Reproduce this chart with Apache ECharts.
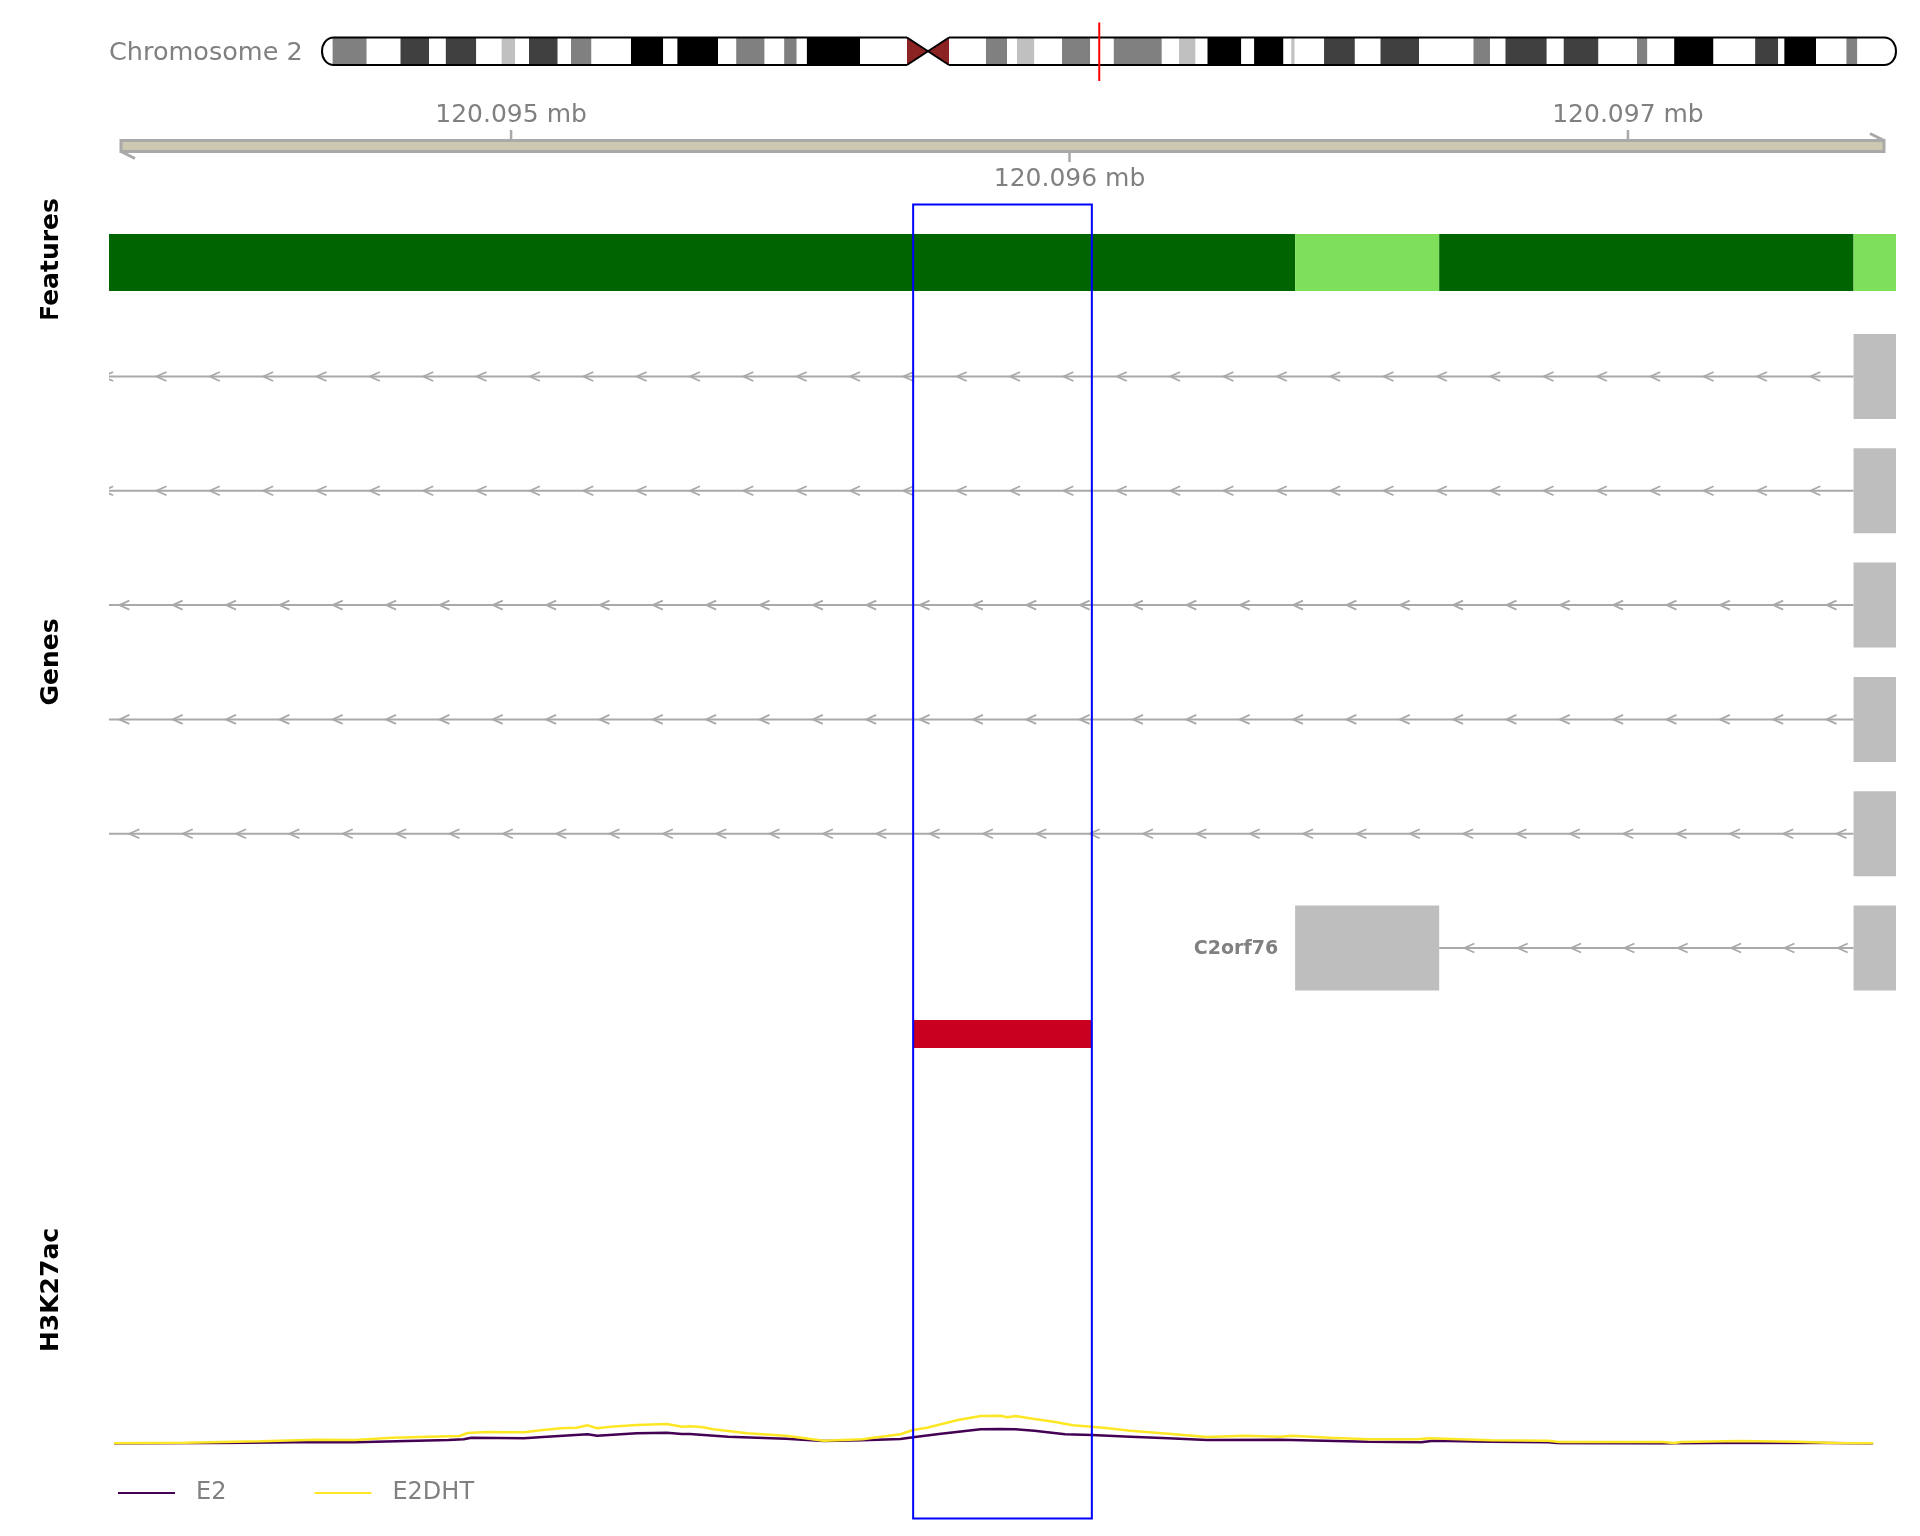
<!DOCTYPE html>
<html>
<head>
<meta charset="utf-8">
<script src="https://cdn.jsdelivr.net/npm/echarts@6/dist/echarts.min.js"></script>
<style>html,body{margin:0;padding:0;background:#fff}#c{width:1920px;height:1536px}</style>
</head>
<body>
<div id="c"></div>
<script>
// ---------------- data ----------------
const chromName = 'Chromosome 2';
const chromLengthMb = 243.2;
const bandEdgesMb = [0, 1.64, 6.91, 12.13, 16.53, 19.13, 23.84, 27.75, 29.84, 31.98, 36.42, 38.47, 41.64, 47.74, 52.72, 54.91, 61.19, 64.00, 68.39, 71.41, 73.35, 74.92, 83.13, 90.39, 93.56, 96.88, 102.59, 105.84, 107.38, 110.07, 114.34, 118.69, 122.34, 129.76, 132.42, 134.98, 136.82, 142.04, 144.02, 148.56, 149.77, 150.29, 154.83, 159.59, 163.55, 169.50, 177.92, 180.47, 182.86, 189.24, 191.86, 197.23, 203.18, 204.79, 208.93, 215.00, 221.44, 225.00, 225.95, 230.85, 235.54, 237.23, 243.20];
const bandStains = ['gneg','gpos50','gneg','gpos75','gneg','gpos75','gneg','gpos25','gneg','gpos75','gneg','gpos50','gneg','gpos100','gneg','gpos100','gneg','gpos50','gneg','gpos50','gneg','gpos100','gneg','acen','acen','gneg','gpos50','gneg','gpos25','gneg','gpos50','gneg','gpos50','gneg','gpos25','gneg','gpos100','gneg','gpos100','gneg','gpos25','gneg','gpos75','gneg','gpos75','gneg','gpos50','gneg','gpos75','gneg','gpos75','gneg','gpos50','gneg','gpos100','gneg','gpos75','gneg','gpos100','gneg','gpos50','gneg'];
const viewMarkMb = 120.096;

const viewStart = 120094280;
const viewEnd = 120097480;
const axisTicks = [120095000, 120096000, 120097000];
const axisTickLabels = ['120.095 mb', '120.096 mb', '120.097 mb'];

const featureStarts = [120094280, 120096404, 120096662, 120097404];
const featureEnds   = [120096404, 120096662, 120097404, 120097480];
const featureTypes  = ['intron', 'exon', 'intron', 'exon'];

const transcriptStarts = [120094280, 120094280, 120094280, 120094280, 120094280, 120096404];
const transcriptExons = [
  [[120097404, 120097480]],
  [[120097404, 120097480]],
  [[120097404, 120097480]],
  [[120097404, 120097480]],
  [[120097404, 120097480]],
  [[120096404, 120096662], [120097404, 120097480]]
];
const transcriptLabels = ['', '', '', '', '', 'C2orf76'];
const arrowAnchors = [120094365, 120094365, 120094394, 120094394, 120094412, 120096707];

const peakStarts = [120095720];
const peakEnds = [120096040];
const highlightStart = 120095720;
const highlightEnd = 120096040;

const e2Pos = [120094289, 120094484, 120094652, 120094720, 120094888, 120094915, 120094929, 120095023, 120095057, 120095137, 120095154, 120095225, 120095279, 120095306, 120095320, 120095389, 120095492, 120095560, 120095629, 120095697, 120095720, 120095766, 120095841, 120095876, 120095903, 120095937, 120095992, 120096040, 120096109, 120096177, 120096246, 120096377, 120096535, 120096630, 120096651, 120096754, 120096857, 120096877, 120097062, 120097165, 120097302, 120097439];
const e2Val = [0, 0.05, 0.16, 0.13, 0.37, 0.44, 0.61, 0.55, 0.68, 0.97, 0.82, 1.07, 1.14, 1.00, 1.00, 0.72, 0.50, 0.26, 0.34, 0.47, 0.65, 1.00, 1.49, 1.52, 1.49, 1.35, 0.97, 0.89, 0.72, 0.55, 0.37, 0.40, 0.19, 0.13, 0.29, 0.19, 0.13, 0.02, 0, 0.05, 0.08, 0];
const e2dhtPos = [120094289, 120094416, 120094551, 120094652, 120094720, 120094787, 120094888, 120094908, 120094922, 120094955, 120095023, 120095057, 120095090, 120095117, 120095137, 120095154, 120095178, 120095225, 120095279, 120095306, 120095320, 120095341, 120095362, 120095423, 120095492, 120095560, 120095629, 120095656, 120095697, 120095720, 120095745, 120095800, 120095841, 120095876, 120095889, 120095903, 120095937, 120095972, 120096006, 120096040, 120096061, 120096109, 120096177, 120096246, 120096314, 120096377, 120096398, 120096466, 120096535, 120096624, 120096644, 120096754, 120096857, 120096877, 120097062, 120097083, 120097096, 120097199, 120097302, 120097371, 120097439];
const e2dhtVal = [0.02, 0.08, 0.23, 0.40, 0.37, 0.61, 0.76, 0.79, 1.10, 1.21, 1.18, 1.42, 1.60, 1.66, 1.91, 1.60, 1.77, 1.95, 2.05, 1.77, 1.82, 1.74, 1.49, 1.07, 0.82, 0.30, 0.44, 0.65, 0.97, 1.42, 1.66, 2.47, 2.89, 2.92, 2.75, 2.89, 2.58, 2.29, 1.91, 1.77, 1.66, 1.35, 1.03, 0.68, 0.82, 0.72, 0.82, 0.61, 0.44, 0.44, 0.55, 0.34, 0.29, 0.16, 0.16, 0.05, 0.16, 0.26, 0.19, 0.05, 0.02];
const seriesNames = ['E2', 'E2DHT'];
const trackTitles = ['Features', 'Genes', 'H3K27ac'];

// ---------------- styles ----------------
const FONT = 'DejaVu Sans';
const GREY_TXT = '#808080';
const stainColor = {gneg: '#FFFFFF', gpos25: '#C0C0C0', gpos50: '#808080', gpos75: '#404040', gpos100: '#000000'};
const featureColor = {intron: '#006400', exon: '#7EE05A'};
const lineColors = ['#440154', '#FDE725'];
const PLOT_LEFT = 109, PLOT_WIDTH = 1787;
const ARROW_SPACING = 53.35;

const chart = echarts.init(document.getElementById('c'), null, {width: 1920, height: 1536});

function rectX(api, s, e) {
  const x1 = api.coord([s, 0])[0], x2 = api.coord([e, 0])[0];
  return [x1, x2];
}

// ideogram bands
function renderBand(params, api) {
  const i = api.value(2);
  const stain = bandStains[i];
  if (stain === 'acen') return null;
  const cs = params.coordSys;
  const [x1, x2] = rectX(api, api.value(0), api.value(1));
  return {type: 'rect', shape: {x: x1, y: cs.y, width: x2 - x1, height: cs.height}, style: {fill: stainColor[stain]}};
}
// ideogram outline, centromere and view marker
function renderIdeoOutline(params, api) {
  const cs = params.coordSys;
  const top = cs.y, bot = cs.y + cs.height, mid = (top + bot) / 2;
  const xL = api.coord([0, 0])[0], xR = api.coord([chromLengthMb, 0])[0];
  const ai = bandStains.indexOf('acen');
  const cL = api.coord([bandEdgesMb[ai], 0])[0];
  const cM = api.coord([bandEdgesMb[ai + 1], 0])[0];
  const cR = api.coord([bandEdgesMb[ai + 2], 0])[0];
  const cap = 12, k = cap * 1.333;
  const mx = api.coord([viewMarkMb, 0])[0];
  const ln = {stroke: '#000', lineWidth: 2, fill: null};
  return {type: 'group', children: [
    {type: 'polygon', shape: {points: [[cL, top], [cL, bot], [cM, mid]]}, style: {fill: '#8B2323'}},
    {type: 'polygon', shape: {points: [[cR, top], [cR, bot], [cM, mid]]}, style: {fill: '#8B2323'}},
    {type: 'polyline', shape: {points: [[cL, top], [xL + cap, top]]}, style: ln},
    {type: 'polyline', shape: {points: [[cL, bot], [xL + cap, bot]]}, style: ln},
    {type: 'bezierCurve', shape: {x1: xL + cap, y1: top, cpx1: xL + cap - k, cpy1: top, cpx2: xL + cap - k, cpy2: bot, x2: xL + cap, y2: bot}, style: ln},
    {type: 'polyline', shape: {points: [[cR, top], [xR - cap, top]]}, style: ln},
    {type: 'polyline', shape: {points: [[cR, bot], [xR - cap, bot]]}, style: ln},
    {type: 'bezierCurve', shape: {x1: xR - cap, y1: top, cpx1: xR - cap + k, cpy1: top, cpx2: xR - cap + k, cpy2: bot, x2: xR - cap, y2: bot}, style: ln},
    {type: 'polyline', shape: {points: [[cL, top], [cR, bot]]}, style: ln},
    {type: 'polyline', shape: {points: [[cL, bot], [cR, top]]}, style: ln},
    {type: 'line', shape: {x1: mx, y1: top - 15, x2: mx, y2: bot + 16}, style: {stroke: '#FF0000', lineWidth: 2}}
  ]};
}
// genome axis
function renderAxis(params, api) {
  const cs = params.coordSys;
  const bx1 = cs.x + 12, bx2 = cs.x + cs.width - 12;
  const top = cs.y, bot = cs.y + cs.height;
  const grey = '#A9A9A9';
  const children = [
    {type: 'rect', shape: {x: bx1, y: top + 1.5, width: bx2 - bx1, height: cs.height - 3}, style: {fill: '#CDC8B1', stroke: grey, lineWidth: 3}},
    {type: 'line', shape: {x1: bx2, y1: top + 1.5, x2: bx2 - 14, y2: top - 5.5}, style: {stroke: grey, lineWidth: 3}},
    {type: 'line', shape: {x1: bx1, y1: bot - 1.5, x2: bx1 + 14, y2: bot + 5.5}, style: {stroke: grey, lineWidth: 3}}
  ];
  axisTicks.forEach(function (t, i) {
    const x = api.coord([t, 0])[0];
    const up = i % 2 === 0;
    children.push({type: 'line', shape: {x1: x, y1: up ? top : bot, x2: x, y2: up ? top - 9 : bot + 9}, style: {stroke: grey, lineWidth: 2.5}});
    children.push({type: 'text', style: {text: axisTickLabels[i], x: x, y: up ? top - 24 : bot + 26.5,
      font: '25px "' + FONT + '"', fill: GREY_TXT, align: 'center', verticalAlign: 'middle', textAlign: 'center', textVerticalAlign: 'middle'}});
  });
  return {type: 'group', children: children};
}
// feature track
function renderFeature(params, api) {
  const cs = params.coordSys;
  const [x1, x2] = rectX(api, api.value(0), api.value(1));
  return {type: 'rect', shape: {x: x1, y: cs.y, width: x2 - x1, height: cs.height}, style: {fill: featureColor[featureTypes[api.value(2)]]}};
}
// gene models
function renderTranscript(params, api) {
  const r = api.value(0);
  const yc = api.coord([viewStart, r + 0.5])[1];
  const pitch = api.size([0, 1])[1];
  const h = pitch * 0.744;
  const exons = transcriptExons[r];
  const grey = '#A9A9A9';
  const children = [];
  const introns = [];
  let prev = transcriptStarts[r];
  exons.forEach(function (ex) {
    if (ex[0] > prev) introns.push([prev, ex[0]]);
    prev = Math.max(prev, ex[1]);
  });
  const anchor = api.coord([arrowAnchors[r], 0])[0];
  introns.forEach(function (seg) {
    const a = api.coord([seg[0], 0])[0], b = api.coord([seg[1], 0])[0];
    children.push({type: 'line', shape: {x1: a, y1: yc, x2: b, y2: yc}, style: {stroke: grey, lineWidth: 2}});
    const kMin = Math.ceil((a - 9 - anchor) / ARROW_SPACING);
    for (let k = kMin; ; k++) {
      const tip = anchor + k * ARROW_SPACING;
      if (tip + 10 > b - 3) break;
      children.push({type: 'polyline', shape: {points: [[tip + 10, yc - 4.5], [tip, yc], [tip + 10, yc + 4.5]]}, style: {stroke: grey, lineWidth: 1.8, fill: null}});
    }
  });
  exons.forEach(function (ex) {
    const [x1, x2] = rectX(api, ex[0], ex[1]);
    children.push({type: 'rect', shape: {x: x1, y: yc - h / 2, width: x2 - x1, height: h}, style: {fill: '#BEBEBE'}});
  });
  if (transcriptLabels[r]) {
    const lx = api.coord([exons[0][0], 0])[0] - 17;
    children.push({type: 'text', style: {text: transcriptLabels[r], x: lx, y: yc + 1, font: 'bold 19px "' + FONT + '"', fill: GREY_TXT,
      align: 'right', verticalAlign: 'middle', textAlign: 'right', textVerticalAlign: 'middle'}});
  }
  return {type: 'group', children: children};
}
function renderPeak(params, api) {
  const cs = params.coordSys;
  const [x1, x2] = rectX(api, api.value(0), api.value(1));
  return {type: 'rect', shape: {x: x1, y: cs.y, width: x2 - x1, height: cs.height}, style: {fill: '#C9001F'}};
}
function renderHighlight(params, api) {
  const cs = params.coordSys;
  const [x1, x2] = rectX(api, api.value(0), api.value(1));
  return {type: 'rect', shape: {x: x1, y: cs.y, width: x2 - x1, height: cs.height}, style: {fill: null, stroke: '#0000FF', lineWidth: 2}};
}

const grids = [
  {left: 322, width: 1574, top: 37.5, height: 27.5},          // 0 ideogram
  {left: PLOT_LEFT, width: PLOT_WIDTH, top: 139, height: 14},  // 1 axis
  {left: PLOT_LEFT, width: PLOT_WIDTH, top: 234, height: 57},  // 2 features
  {left: PLOT_LEFT, width: PLOT_WIDTH, top: 319.35, height: 685.8}, // 3 genes
  {left: PLOT_LEFT, width: PLOT_WIDTH, top: 1020, height: 28}, // 4 peaks
  {left: PLOT_LEFT, width: PLOT_WIDTH, top: 1063, height: 380.5}, // 5 data
  {left: PLOT_LEFT, width: PLOT_WIDTH, top: 204.5, height: 1314} // 6 highlight
];
const xAxes = grids.map(function (g, i) {
  return i === 0 ? {gridIndex: 0, type: 'value', min: 0, max: chromLengthMb, show: false}
                 : {gridIndex: i, type: 'value', min: viewStart, max: viewEnd, show: false};
});
const yAxes = grids.map(function (g, i) {
  if (i === 3) return {gridIndex: i, type: 'value', min: 0, max: transcriptExons.length, inverse: true, show: false};
  if (i === 5) return {gridIndex: i, type: 'value', min: 0, max: 40, show: false};
  return {gridIndex: i, type: 'value', min: 0, max: 1, show: false};
});

const titleY = [260, 662, 1290];
const graphics = trackTitles.map(function (t, i) {
  return {type: 'text', x: 51, y: titleY[i], rotation: Math.PI / 2,
    style: {text: t, x: 0, y: 0, font: 'bold 25px "' + FONT + '"', fill: '#000', align: 'center', verticalAlign: 'middle', textAlign: 'center', textVerticalAlign: 'middle'}};
});
// the Features title is clipped by its track panel in the reference
graphics.push({type: 'rect', shape: {x: 30, y: 318.5, width: 45, height: 8}, style: {fill: '#fff'}, z: 100});
graphics.push({type: 'text', x: 109, y: 53, style: {text: chromName, x: 0, y: 0, font: '25.5px "' + FONT + '"', fill: GREY_TXT,
  align: 'left', verticalAlign: 'middle', textAlign: 'left', textVerticalAlign: 'middle'}});

const option = {
  animation: false,
  backgroundColor: '#fff',
  grid: grids,
  xAxis: xAxes,
  yAxis: yAxes,
  graphic: graphics,
  legend: {
    data: seriesNames,
    left: 118, top: 1481, padding: 0,
    icon: 'rect', itemWidth: 57, itemHeight: 2, itemGap: 88,
    textStyle: {color: GREY_TXT, fontSize: 24, fontFamily: FONT, padding: [0, 0, 0, 16]}
  },
  series: [
    {type: 'custom', xAxisIndex: 0, yAxisIndex: 0, clip: false, renderItem: renderBand,
      data: bandStains.map(function (s, i) { return [bandEdgesMb[i], bandEdgesMb[i + 1], i]; })},
    {type: 'custom', xAxisIndex: 0, yAxisIndex: 0, clip: false, renderItem: renderIdeoOutline, data: [[0, chromLengthMb]], z: 3},
    {type: 'custom', xAxisIndex: 1, yAxisIndex: 1, clip: false, renderItem: renderAxis, data: [[viewStart, viewEnd]]},
    {type: 'custom', xAxisIndex: 2, yAxisIndex: 2, clip: true, renderItem: renderFeature,
      data: featureStarts.map(function (s, i) { return [s, featureEnds[i], i]; })},
    {type: 'custom', xAxisIndex: 3, yAxisIndex: 3, clip: true, renderItem: renderTranscript,
      data: transcriptExons.map(function (e, i) { return [i]; })},
    {type: 'custom', xAxisIndex: 4, yAxisIndex: 4, clip: true, renderItem: renderPeak,
      data: peakStarts.map(function (s, i) { return [s, peakEnds[i]]; })},
    {name: seriesNames[0], type: 'line', xAxisIndex: 5, yAxisIndex: 5, showSymbol: false, symbol: 'none',
      lineStyle: {color: lineColors[0], width: 2.5}, itemStyle: {color: lineColors[0]},
      data: e2Pos.map(function (p, i) { return [p, e2Val[i]]; })},
    {name: seriesNames[1], type: 'line', xAxisIndex: 5, yAxisIndex: 5, showSymbol: false, symbol: 'none',
      lineStyle: {color: lineColors[1], width: 2.5}, itemStyle: {color: lineColors[1]},
      data: e2dhtPos.map(function (p, i) { return [p, e2dhtVal[i]]; })},
    {type: 'custom', xAxisIndex: 6, yAxisIndex: 6, clip: false, renderItem: renderHighlight, data: [[highlightStart, highlightEnd]], z: 10}
  ]
};
chart.setOption(option);
</script>
</body>
</html>
